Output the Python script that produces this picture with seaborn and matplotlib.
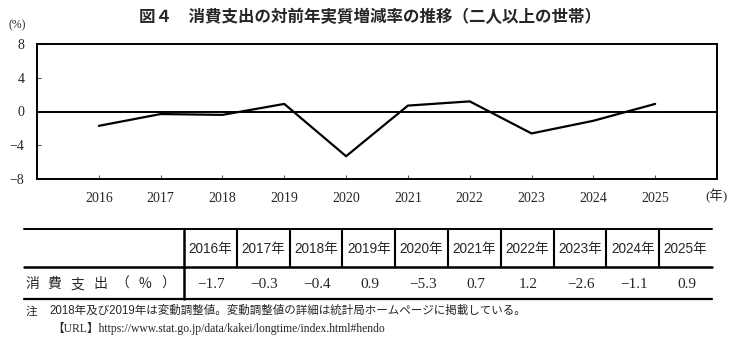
import matplotlib
matplotlib.use("Agg")
import matplotlib.pyplot as plt
import seaborn as sns
import pandas as pd
import numpy as np

# Annual real change in consumption expenditure (two-or-more-person households)
years = [2016, 2017, 2018, 2019, 2020, 2021, 2022, 2023, 2024, 2025]
values = [-1.7, -0.3, -0.4, 0.9, -5.3, 0.7, 1.2, -2.6, -1.1, 0.9]
y_ticks = [-8, -4, 0, 4, 8]

title = "図４　消費支出の対前年実質増減率の推移（二人以上の世帯）"
row_label = "消費支出（%）"
note_text = "2018年及び2019年は変動調整値。変動調整値の詳細は統計局ホームページに掲載している。"
url_text = "【URL】https://www.stat.go.jp/data/kakei/longtime/index.html#hendo"

sns.set_style("white")
plt.rcParams["font.family"] = ["Liberation Serif", "Noto Sans CJK JP"]
plt.rcParams["axes.unicode_minus"] = True

W, H = 739, 339
fig = plt.figure(figsize=(W / 100, H / 100), dpi=100)
fig.patch.set_facecolor("white")

# ---- line chart ----
left, right, top, bottom = 37, 717, 44, 179
ax = fig.add_axes([left / W, 1 - bottom / H, (right - left) / W, (bottom - top) / H])
df = pd.DataFrame({"idx": np.arange(len(years)), "value": values})
sns.lineplot(data=df, x="idx", y="value", ax=ax, color="black", linewidth=1.6)
ax.axhline(0, color="black", linewidth=1.4, zorder=1)

ax.set_xlim(-1, len(years))
ax.set_ylim(-8, 8)
ax.set_xticks(np.arange(len(years)))
ax.set_xticklabels([str(y) for y in years])
ax.set_yticks(y_ticks)
ax.set_yticklabels([str(t).replace("-", "\u2212") for t in y_ticks])
ax.set_xlabel("")
ax.set_ylabel("")
for s in ax.spines.values():
    s.set_color("black")
    s.set_linewidth(1.4)
ax.tick_params(axis="x", direction="in", length=3, width=0.8, color="#555555",
               labelsize=10, pad=9, bottom=True)
ax.tick_params(axis="y", direction="in", length=3, width=0.8, color="#555555",
               labelsize=10, pad=9, left=True)
for lab in ax.get_xticklabels() + ax.get_yticklabels():
    lab.set_fontfamily(["Liberation Serif"])

# ---- overlay in pixel coordinates for title, labels and table ----
ov = fig.add_axes([0, 0, 1, 1], zorder=-1)
ov.set_xlim(0, W)
ov.set_ylim(H, 0)
ov.axis("off")

ov.text(370, 17, title, ha="center", va="center", fontsize=11.9,
        fontweight="bold", family=["Noto Sans CJK JP"])
ov.text(17, 25, "(%)", ha="center", va="center", fontsize=8.5,
        family=["Liberation Serif"])
ov.text(717, 196, "(年)", ha="center", va="center", fontsize=9.5,
        family=["Liberation Serif", "Noto Sans CJK JP"])

# table grid
tab_l, tab_r = 24, 712
y_top, y_mid, y_bot = 229, 267, 299
col_edges = np.linspace(184, tab_r, len(years) + 1)
ov.plot([tab_l, tab_r], [y_top, y_top], color="black", lw=1.4)
ov.plot([tab_l, tab_r], [y_mid, y_mid], color="black", lw=1.8)
ov.plot([tab_l, tab_r], [y_bot, y_bot], color="black", lw=1.6)
ov.plot([col_edges[0], col_edges[0]], [y_top, y_bot], color="black", lw=1.8)
for xe in col_edges[1:-1]:
    ov.plot([xe, xe], [y_top, y_mid], color="black", lw=1.5)

centers = (col_edges[:-1] + col_edges[1:]) / 2
for cx, yr, v in zip(centers, years, values):
    ov.text(cx, 249, f"{yr}年", ha="center", va="center", fontsize=9.8,
            family=["Liberation Sans", "Noto Sans CJK JP"])
    ov.text(cx + 1, 284, f"{v:.1f}".replace("-", "\u2212"), ha="center",
            va="center", fontsize=11, family=["Liberation Serif"])

label_x = np.linspace(32, 168, len(row_label))
for cx, ch in zip(label_x, row_label):
    ov.text(cx, 284, ch, ha="center", va="center", fontsize=10,
            family=["Noto Sans CJK JP"])

# notes under the table
ov.text(26, 311, "注", ha="left", va="center", fontsize=8.3, family=["Noto Sans CJK JP"])
ov.text(49, 311, note_text, ha="left", va="center", fontsize=8.3,
        family=["Liberation Sans", "Noto Sans CJK JP"])
ov.text(52, 328, url_text, ha="left", va="center", fontsize=8.4,
        family=["Liberation Serif", "Noto Sans CJK JP"])

fig.savefig("out.png", dpi=100, facecolor="white")
